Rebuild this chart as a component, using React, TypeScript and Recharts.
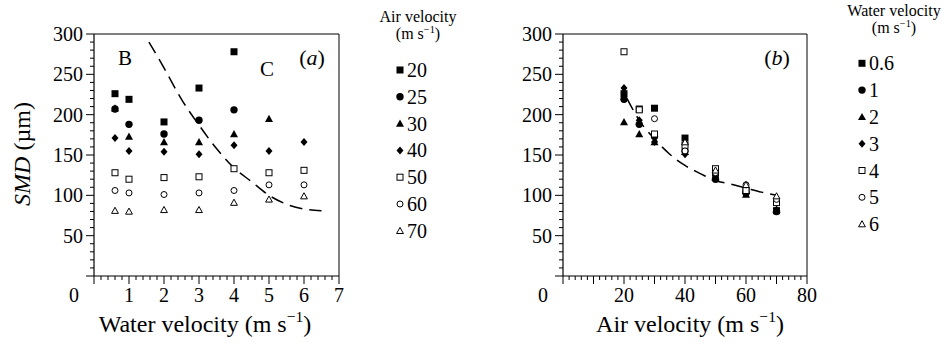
import React from "react";
import { ComposedChart, Scatter, Line, XAxis, YAxis, ReferenceLine } from "recharts";

const FONT = "'Liberation Serif', 'Times New Roman', serif";

// measurement grid
const waterVelocity = [0.6, 1, 2, 3, 4, 5, 6];
const airVelocity = [20, 25, 30, 40, 50, 60, 70];

// SMD (µm) for each air velocity, one entry per water velocity (null = not measured)
const smdAir20 = [226, 219, 191, 233, 278, null, null];
const smdAir25 = [207, 188, 176, 193, 206, null, null];
const smdAir30 = [208, 173, 166, 166, 176, 195, null];
const smdAir40 = [171, 155, 154, 151, 162, 155, 166];
const smdAir50 = [128, 120, 122, 123, 133, 128, 131];
const smdAir60 = [106, 103, 101, 103, 106, 113, 113];
const smdAir70 = [81, 80, 82, 82, 91, 95, 99];
const smdByAir = [smdAir20, smdAir25, smdAir30, smdAir40, smdAir50, smdAir60, smdAir70];

// B / C regime boundary, panel (a)
const boundaryWater = [1.57, 2, 2.5, 3, 3.5, 4, 4.5, 5, 5.5, 6, 6.5];
const boundarySmd = [290, 258, 219, 187, 158, 134, 117, 100, 89, 83, 81];

// trend line, panel (b)
const trendAir = [21, 25, 30, 35, 40, 45, 50, 55, 60, 65, 70];
const trendSmd = [220, 193, 170, 151, 137, 127, 118, 114, 109, 104, 100];

// labelled ticks
const smdTicks = [50, 100, 150, 200, 250, 300];
const waterTicks = [0, 1, 2, 3, 4, 5, 6, 7];
const airTicks = [0, 20, 40, 60, 80];

type Kind = "square" | "circle" | "triangle" | "diamond";
const markerStyles: [Kind, boolean][] = [
  ["square", true],
  ["circle", true],
  ["triangle", true],
  ["diamond", true],
  ["square", false],
  ["circle", false],
  ["triangle", false],
];

function Marker({ cx, cy, kind, filled }: { cx: number; cy: number; kind: Kind; filled: boolean }) {
  const fill = filled ? "#000" : "#fff";
  const sw = filled ? 0 : 1;
  if (kind === "square") {
    const h = filled ? 3.5 : 3;
    return <rect x={cx - h} y={cy - h} width={2 * h} height={2 * h} fill={fill} stroke="#000" strokeWidth={sw} />;
  }
  if (kind === "circle") {
    return <circle cx={cx} cy={cy} r={filled ? 3.7 : 3} fill={fill} stroke="#000" strokeWidth={sw} />;
  }
  if (kind === "triangle") {
    const h = filled ? 4 : 3.4;
    return (
      <polygon
        points={`${cx},${cy - h} ${cx + h},${cy + h * 0.8} ${cx - h},${cy + h * 0.8}`}
        fill={fill}
        stroke="#000"
        strokeWidth={sw}
      />
    );
  }
  return <polygon points={`${cx},${cy - 4} ${cx + 3.5},${cy} ${cx},${cy + 4} ${cx - 3.5},${cy}`} fill={fill} />;
}

const range = (stop: number, step: number) =>
  Array.from({ length: Math.round(stop / step) + 1 }, (_, i) => +(i * step).toFixed(2));

const smdMinor = range(300, 10);
const waterMinor = range(7, 0.2);
const airMinor = range(80, 2);

function SmdTick({ x, y, payload }: any) {
  const v = payload.value;
  const major = v % 50 === 0;
  const labelled = smdTicks.includes(v);
  return (
    <g>
      <line x1={x} x2={x - (major ? 8 : 4)} y1={y} y2={y} stroke="#000" strokeWidth={1} />
      {labelled && (
        <text x={x - 11} y={y + 7} textAnchor="end" fontSize={20} fontFamily={FONT} fill="#000">
          {v}
        </text>
      )}
    </g>
  );
}

const makeXTick = (labels: number[], majorStep: number) =>
  function XTick({ x, y, payload }: any) {
    const v = payload.value;
    const major = Math.abs(v / majorStep - Math.round(v / majorStep)) < 1e-6;
    const labelled = labels.some((l) => Math.abs(l - v) < 1e-6);
    return (
      <g>
        <line x1={x} x2={x} y1={y} y2={y + (major ? 8 : 4)} stroke="#000" strokeWidth={1} />
        {labelled && (
          <text x={v === 0 ? x - 20 : x} y={y + 26} textAnchor="middle" fontSize={20} fontFamily={FONT} fill="#000">
            {v}
          </text>
        )}
      </g>
    );
  };

const WaterTick = makeXTick(waterTicks, 1);
const AirTick = makeXTick(airTicks, 10);

type Series = { name: string; kind: Kind; filled: boolean; points: { x: number; y: number }[] };

const seriesA: Series[] = airVelocity.map((air, i) => ({
  name: String(air),
  kind: markerStyles[i][0],
  filled: markerStyles[i][1],
  points: waterVelocity
    .map((w, j) => ({ x: w, y: smdByAir[i][j] as number }))
    .filter((p) => p.y != null),
}));

const seriesB: Series[] = waterVelocity.map((w, j) => ({
  name: String(w),
  kind: markerStyles[j][0],
  filled: markerStyles[j][1],
  points: airVelocity
    .map((air, i) => ({ x: air, y: smdByAir[i][j] as number }))
    .filter((p) => p.y != null),
}));

const boundary = boundaryWater.map((x, i) => ({ x, y: boundarySmd[i] }));
const trend = trendAir.map((x, i) => ({ x, y: trendSmd[i] }));

function Panel({
  series,
  curve,
  xMax,
  xTicks,
  XTickComp,
  margin,
  reverse,
}: {
  series: Series[];
  curve: { x: number; y: number }[];
  xMax: number;
  xTicks: number[];
  XTickComp: any;
  margin: { top: number; right: number; bottom: number; left: number };
  reverse?: boolean;
}) {
  const ordered = reverse ? [...series].reverse() : series;
  return (
    <ComposedChart width={472} height={348} margin={margin}>
      <XAxis
        type="number"
        dataKey="x"
        domain={[0, xMax]}
        ticks={xTicks}
        interval={0}
        tick={<XTickComp />}
        tickLine={false}
        tickSize={0}
        tickMargin={0}
        height={40}
        axisLine={{ stroke: "#000", strokeWidth: 1.2 }}
      />
      <YAxis
        type="number"
        dataKey="y"
        domain={[0, 300]}
        ticks={smdMinor}
        interval={0}
        tick={<SmdTick />}
        tickLine={false}
        tickSize={0}
        tickMargin={0}
        width={60}
        axisLine={{ stroke: "#000", strokeWidth: 1.2 }}
      />
      <ReferenceLine y={300} stroke="#000" strokeWidth={1} />
      <ReferenceLine x={xMax} stroke="#000" strokeWidth={1} />
      <Line
        data={curve}
        dataKey="y"
        type="monotone"
        stroke="#000"
        strokeWidth={1.5}
        strokeDasharray="13 7"
        dot={false}
        activeDot={false}
        isAnimationActive={false}
      />
      {ordered.map((s) => (
        <Scatter
          key={s.name}
          name={s.name}
          data={s.points}
          isAnimationActive={false}
          shape={(p: any) => <Marker cx={p.cx} cy={p.cy} kind={s.kind} filled={s.filled} />}
        />
      ))}
    </ComposedChart>
  );
}

function Unit({ size }: { size: number }) {
  return (
    <>
      (m s
      <tspan dy={-size * 0.4} fontSize={size * 0.65}>
        −1
      </tspan>
      <tspan dy={size * 0.4}>)</tspan>
    </>
  );
}

function LegendBlock({
  title,
  series,
  cx,
  titleY,
  markerX,
  firstY,
}: {
  title: string;
  series: Series[];
  cx: number;
  titleY: number;
  markerX: number;
  firstY: number;
}) {
  return (
    <g>
      <text x={cx} y={titleY} textAnchor="middle" fontSize={16}>
        {title}
      </text>
      <text x={cx} y={titleY + 17} textAnchor="middle" fontSize={16}>
        <Unit size={16} />
      </text>
      {series.map((s, i) => {
        const cy = firstY + i * 26.8;
        return (
          <g key={s.name}>
            <Marker cx={markerX} cy={cy} kind={s.kind} filled={s.filled} />
            <text x={markerX + 7} y={cy + 7} fontSize={20}>
              {s.name}
            </text>
          </g>
        );
      })}
    </g>
  );
}

export default function App() {
  return (
    <div
      style={{
        position: "fixed",
        left: 0,
        top: 0,
        width: 944,
        height: 348,
        background: "#fff",
        fontFamily: FONT,
        overflow: "hidden",
      }}
    >
      <div style={{ position: "absolute", left: 0, top: 0 }}>
        <Panel
          series={seriesA}
          curve={boundary}
          xMax={7}
          xTicks={waterMinor}
          XTickComp={WaterTick}
          margin={{ top: 34, right: 133, bottom: 32, left: 34 }}
          reverse
        />
      </div>
      <div style={{ position: "absolute", left: 472, top: 0 }}>
        <Panel
          series={seriesB}
          curve={trend}
          xMax={80}
          xTicks={airMinor}
          XTickComp={AirTick}
          margin={{ top: 34, right: 137, bottom: 32, left: 31 }}
        />
      </div>
      <svg
        width={944}
        height={348}
        style={{ position: "absolute", left: 0, top: 0, pointerEvents: "none" }}
        fontFamily={FONT}
        fill="#000"
      >
        {/* y title */}
        <text transform="translate(30,154) rotate(-90)" textAnchor="middle" fontSize={24}>
          <tspan fontStyle="italic">SMD</tspan> (µm)
        </text>
        {/* x titles */}
        <text x={205} y={332} textAnchor="middle" fontSize={24}>
          Water velocity <Unit size={24} />
        </text>
        <text x={690} y={332} textAnchor="middle" fontSize={24}>
          Air velocity <Unit size={24} />
        </text>
        {/* panel annotations */}
        <text x={125} y={65} textAnchor="middle" fontSize={21}>
          B
        </text>
        <text x={267} y={76} textAnchor="middle" fontSize={21}>
          C
        </text>
        <text x={312} y={65} textAnchor="middle" fontSize={22}>
          (<tspan fontStyle="italic">a</tspan>)
        </text>
        <text x={777} y={65} textAnchor="middle" fontSize={22}>
          (<tspan fontStyle="italic">b</tspan>)
        </text>
        <LegendBlock title="Air velocity" series={seriesA} cx={418} titleY={22} markerX={400} firstY={70} />
        <LegendBlock title="Water velocity" series={seriesB} cx={894} titleY={16} markerX={862} firstY={63.3} />
      </svg>
    </div>
  );
}
